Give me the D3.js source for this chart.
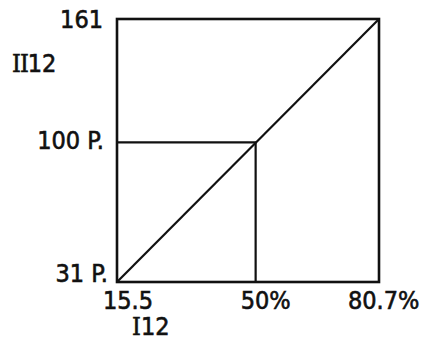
<!DOCTYPE html>
<html lang="en">
<head>
    <meta charset="UTF-8">
    <script src="https://d3js.org/d3.v7.min.js"></script>
    <style>
        body { margin: 0; background: #fff; }
        svg { display: block; }
        .lbl {
            font-family: "DejaVu Sans Condensed", "DejaVu Sans", sans-serif;
            font-size: 25px;
            fill: #111;
            stroke: #111;
            stroke-width: 0.6px;
        }
        .roman { font-family: "DejaVu Serif Condensed", "DejaVu Serif", serif; }
    </style>
</head>
<body>
    <svg id="chart" width="428" height="346"></svg>

    <script>
        // values
        const xDomain = [15.5, 80.7];
        const yDomain = [31, 161];
        const xTicks = [15.5, 50, 80.7];
        const xTickLabels = ["15.5", "50%", "80.7%"];
        const yTicks = [31, 100, 161];
        const yTickLabels = ["31 P.", "100 P.", "161"];
        const diagonal = [[15.5, 31], [80.7, 161]];
        const marker = [50, 100];

        const svg = d3.select("#chart");
        const margin = { top: 19, right: 49, bottom: 64, left: 117 };
        const width = +svg.attr("width") - margin.left - margin.right;
        const height = +svg.attr("height") - margin.top - margin.bottom;

        const x = d3.scaleLinear().domain(xDomain).range([0, width]);
        const y = d3.scaleLinear().domain(yDomain).range([height, 0]);

        const g = svg.append("g").attr("transform", `translate(${margin.left},${margin.top})`);

        // frame
        g.append("rect")
            .attr("x", 0).attr("y", 0)
            .attr("width", width).attr("height", height)
            .attr("fill", "none")
            .attr("stroke", "#111")
            .attr("stroke-width", 2.6);

        // guide lines to the 50% / 100 P. point
        g.append("path")
            .attr("d", d3.line()([[x(xDomain[0]), y(marker[1])], [x(marker[0]), y(marker[1])], [x(marker[0]), y(yDomain[0])]]))
            .attr("fill", "none")
            .attr("stroke", "#111")
            .attr("stroke-width", 2.2);

        // diagonal
        g.append("path")
            .datum(diagonal)
            .attr("d", d3.line().x(d => x(d[0])).y(d => y(d[1])))
            .attr("fill", "none")
            .attr("stroke", "#111")
            .attr("stroke-width", 2.2);

        // x tick labels (left edge offsets from the tick)
        const xOff = [-14, -15, -31];
        g.selectAll(".xl")
            .data(xTicks)
            .enter().append("text")
            .attr("class", "lbl")
            .attr("x", (d, i) => x(d) + xOff[i])
            .attr("y", height + 27)
            .text((d, i) => xTickLabels[i]);

        // y tick labels
        const yOff = [0, 7, 9];
        const yRight = [-9, -13, -14];
        g.selectAll(".yl")
            .data(yTicks)
            .enter().append("text")
            .attr("class", "lbl")
            .attr("text-anchor", "end")
            .attr("x", (d, i) => yRight[i])
            .attr("y", (d, i) => y(d) + yOff[i])
            .text((d, i) => yTickLabels[i]);

        // axis names
        const xName = g.append("text").attr("class", "lbl")
            .attr("x", 15).attr("y", height + 53);
        xName.append("tspan").attr("class", "roman").text("I");
        xName.append("tspan").text("12");

        const yName = g.append("text").attr("class", "lbl")
            .attr("x", -105).attr("y", 53);
        yName.append("tspan").attr("class", "roman").attr("letter-spacing", -1).text("II");
        yName.append("tspan").text("12");
    </script>
</body>
</html>
